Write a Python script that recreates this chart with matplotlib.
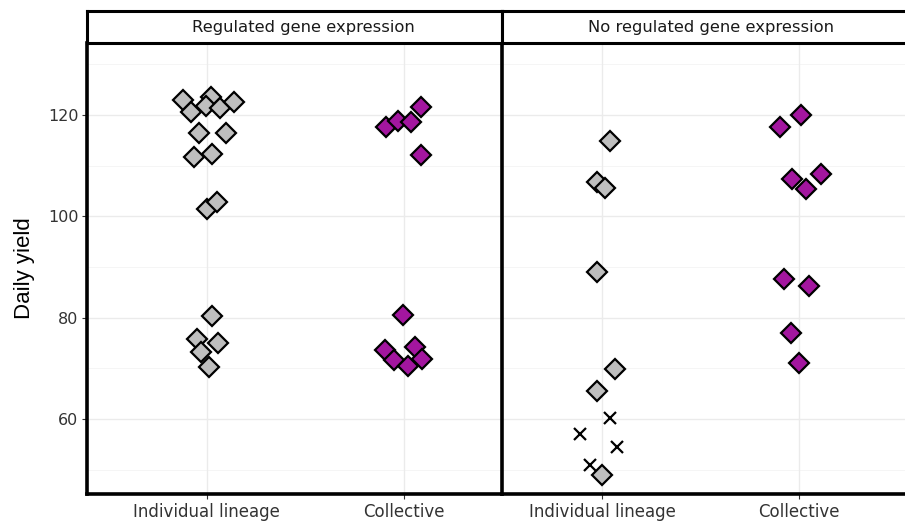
import matplotlib.pyplot as plt
import numpy as np

W, H = 905, 522
fig = plt.figure(figsize=(W / 100, H / 100), dpi=100)

panels = ["Regulated gene expression", "No regulated gene expression"]
categories = ["Individual lineage", "Collective"]

# values; x = category index + jitter
reg_ind_x = [0.881, 0.919, 1.020, 0.995, 1.068, 1.139, 0.962, 1.096, 0.936, 1.027,
             1.000, 1.054, 1.027, 0.949, 1.059, 0.973, 1.013]
reg_ind_y = [122.9, 120.5, 123.5, 121.8, 121.3, 122.6, 116.4, 116.4, 111.7, 112.3,
             101.4, 102.8, 80.4, 75.8, 75.0, 73.3, 70.3]
reg_col_x = [1.909, 1.972, 2.039, 2.090, 2.088, 1.997, 1.907, 1.949, 2.056, 2.020, 2.093]
reg_col_y = [117.6, 118.8, 118.5, 121.5, 112.1, 80.6, 73.7, 71.7, 74.2, 70.5, 71.8]

noreg_ind_x = [1.041, 0.973, 1.012, 0.973, 1.062, 0.973, 1.000]
noreg_ind_y = [114.9, 106.7, 105.5, 89.1, 69.9, 65.6, 49.0]
noreg_fail_x = [1.041, 0.888, 1.076, 0.936]
noreg_fail_y = [60.3, 57.0, 54.6, 50.9]
noreg_col_x = [2.010, 1.904, 1.963, 2.036, 2.112, 1.924, 2.052, 1.958, 2.000]
noreg_col_y = [120.0, 117.5, 107.3, 105.4, 108.4, 87.6, 86.2, 77.0, 71.1]

gray_fill = "#bebebe"
purple_fill = "#a3169f"
grid_col = "#ebebeb"
ylim = (45.3, 134.1)

def px(x0, y0, x1, y1):
    return [x0 / W, 1 - y1 / H, (x1 - x0) / W, (y1 - y0) / H]

ax1 = fig.add_axes(px(86.7, 43.3, 502, 493.7))
ax2 = fig.add_axes(px(502, 43.3, 917, 493.7))
ax1.set_xlim(0.39, 2.50)
ax2.set_xlim(0.49, 2.60)

data = [
    [(reg_ind_x, reg_ind_y, gray_fill), (reg_col_x, reg_col_y, purple_fill)],
    [(noreg_ind_x, noreg_ind_y, gray_fill), (noreg_col_x, noreg_col_y, purple_fill)],
]
title_pos = [0.521, 0.503]

for ax, title, series, tx in zip([ax1, ax2], panels, data, title_pos):
    ax.set_ylim(*ylim)
    ax.set_facecolor("white")
    for v in [50, 70, 90, 110, 130]:
        ax.axhline(v, color="#f4f4f4", lw=0.6, zorder=0)
    for v in [60, 80, 100, 120]:
        ax.axhline(v, color=grid_col, lw=1.0, zorder=0)
    for v in [1, 2]:
        ax.axvline(v, color=grid_col, lw=1.0, zorder=0)
    for xs, ys, fc in series:
        ax.plot(xs, ys, ls="none", marker="D", ms=9.8, mfc=fc, mec="black",
                mew=1.6, zorder=3)
    ax.set_xticks([1, 2])
    ax.set_xticklabels(categories, fontsize=12, color="#333333")
    ax.tick_params(axis="x", length=3.5, color="#333333", pad=3.5)
    for s in ax.spines.values():
        s.set_visible(False)
    ax.spines["left"].set_visible(True)
    ax.spines["left"].set_linewidth(2.6)
    ax.spines["bottom"].set_visible(True)
    ax.spines["bottom"].set_linewidth(2.6)
    # strip
    pos = ax.get_position()
    strip = fig.add_axes([pos.x0, 1 - 43.3 / H, pos.width, (43.3 - 11) / H])
    strip.set_xticks([])
    strip.set_yticks([])
    for s in strip.spines.values():
        s.set_linewidth(2.2)
        s.set_color("black")
    strip.text(tx, 0.5, title, ha="center", va="center",
               fontsize=11.8, color="#1a1a1a", transform=strip.transAxes)

ax2.plot(noreg_fail_x, noreg_fail_y, ls="none", marker="x", ms=8.5, mew=1.6,
         color="black", zorder=3)

ax1.set_yticks([60, 80, 100, 120])
ax1.tick_params(axis="y", length=3.5, labelsize=11.5, labelcolor="#333333",
                color="#333333", pad=2.5)
ax2.set_yticks([60, 80, 100, 120])
ax2.tick_params(axis="y", length=0, labelleft=False)
ax1.set_ylabel("Daily yield", fontsize=16, family="Liberation Sans", labelpad=9)

fig.savefig("out.png", dpi=100)
